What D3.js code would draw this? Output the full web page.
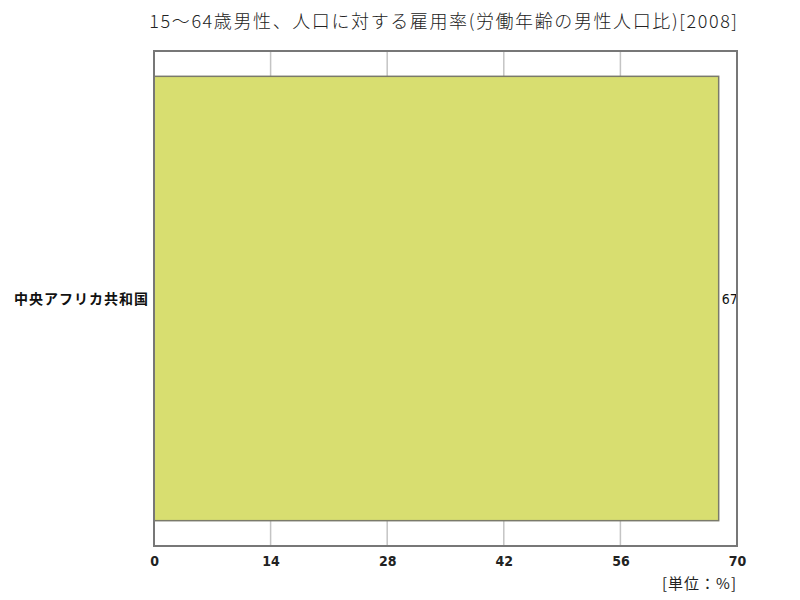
<!DOCTYPE html>
<html>
<head>
<meta charset="utf-8">
<script src="https://cdn.jsdelivr.net/npm/d3@7"></script>
<style>
	body { margin: 0; background: #fff; }
	text { font-family: "Noto Sans CJK JP", sans-serif; }
	.tick-label { font-family: "Liberation Sans Narrow", "DejaVu Sans Condensed", sans-serif; font-size: 14px; }
</style>
</head>
<body>
<div id="chart"></div>
<script>
const title = "15～64歳男性、人口に対する雇用率(労働年齢の男性人口比)[2008]";
const categories = ["中央アフリカ共和国"];
const values = [67.8];
const tickValues = [0, 14, 28, 42, 56, 70];
const unitLabel = "[単位：%]";

const w = 800;
const h = 600;
const plotLeft = 154;
const plotRight = 737;
const plotTop = 51;
const plotBottom = 546;

const svg = d3
	.select("#chart")
	.append("svg")
	.attr("width", w)
	.attr("height", h);

const xScale = d3.scaleLinear().domain([0, 70]).range([plotLeft, plotRight]);
const yScale = d3
	.scaleBand()
	.domain(categories)
	.range([plotTop, plotBottom])
	.paddingInner(0)
	.paddingOuter(0.057);

// title
svg
	.append("text")
	.attr("x", 444)
	.attr("y", 28)
	.attr("text-anchor", "middle")
	.attr("font-size", "18px")
	.attr("font-weight", 300)
	.attr("letter-spacing", "1.6px")
	.attr("fill", "#222")
	.text(title);

// gridlines
svg
	.append("g")
	.selectAll("line")
	.data(tickValues.slice(1, -1))
	.enter()
	.append("line")
	.attr("x1", (d) => xScale(d))
	.attr("x2", (d) => xScale(d))
	.attr("y1", plotTop)
	.attr("y2", plotBottom)
	.attr("stroke", "#c4c4c4")
	.attr("stroke-width", 1.5);

// bars
svg
	.selectAll(".bar")
	.data(values)
	.enter()
	.append("rect")
	.attr("class", "bar")
	.attr("x", xScale(0))
	.attr("y", (d, i) => yScale(categories[i]))
	.attr("width", (d) => xScale(d) - xScale(0))
	.attr("height", yScale.bandwidth())
	.attr("fill", "#d8de70")
	.attr("stroke", "#7a7a6a")
	.attr("stroke-width", 1.5);

// value labels
svg
	.selectAll(".value")
	.data(values)
	.enter()
	.append("text")
	.attr("class", "tick-label")
	.attr("x", (d) => xScale(d) + 3)
	.attr("y", (d, i) => yScale(categories[i]) + yScale.bandwidth() / 2 + 5)
	.attr("font-size", "13px")
	.attr("fill", "#111")
	.text((d) => Math.floor(d));

// frame
svg
	.append("rect")
	.attr("x", plotLeft)
	.attr("y", plotTop)
	.attr("width", plotRight - plotLeft)
	.attr("height", plotBottom - plotTop)
	.attr("fill", "none")
	.attr("stroke", "#777")
	.attr("stroke-width", 2);

// category labels
svg
	.selectAll(".cat")
	.data(categories)
	.enter()
	.append("text")
	.attr("x", plotLeft - 5)
	.attr("y", (d) => yScale(d) + yScale.bandwidth() / 2 + 5)
	.attr("text-anchor", "end")
	.attr("font-size", "14px")
	.attr("letter-spacing", "1px")
	.attr("font-weight", "bold")
	.attr("fill", "#111")
	.text((d) => d);

// x axis
const xAxis = d3.axisBottom(xScale).tickValues(tickValues).tickSize(0).tickPadding(10);
const gx = svg
	.append("g")
	.attr("transform", "translate(0," + plotBottom + ")")
	.call(xAxis);
gx.select(".domain").remove();
gx.attr("font-size", null).attr("font-family", null);
gx.selectAll("text")
	.attr("class", "tick-label")
	.attr("font-weight", "bold")
	.attr("fill", "#222");

// unit
svg
	.append("text")
	.attr("x", plotRight)
	.attr("y", 589)
	.attr("text-anchor", "end")
	.attr("font-size", "15px")
	.attr("letter-spacing", "1px")
	.attr("fill", "#222")
	.text(unitLabel);
</script>
</body>
</html>
